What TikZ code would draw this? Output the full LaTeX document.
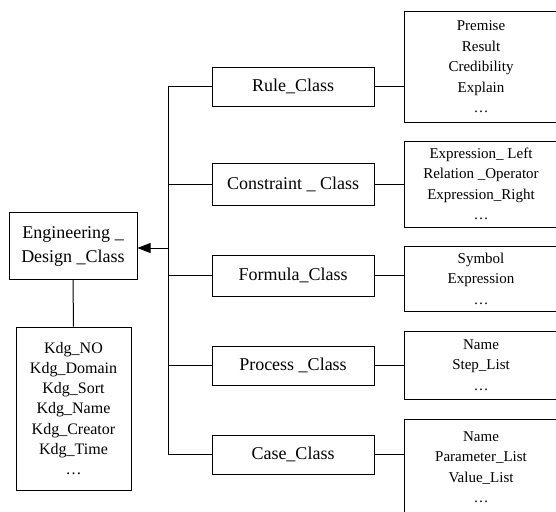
\documentclass[tikz,border=0pt]{standalone}
\usepackage{fontspec}
\setmainfont{Liberation Serif}
\usetikzlibrary{arrows.meta}

\begin{document}
\begin{tikzpicture}[x=1pt,y=-1pt]
\useasboundingbox (0,0) rectangle (556,511);
\tikzstyle{classe}=[rectangle,draw,line width=1pt,minimum width=162pt,
minimum height=40pt,inner sep=0pt,align=center,font=\fontsize{18}{24}\selectfont]
\tikzstyle{attrib}=[rectangle,draw,line width=1pt,minimum width=154pt,
inner sep=0pt,align=center,font=\fontsize{15}{20.5}\selectfont]

\node[classe,minimum width=128pt,minimum height=67pt] (eng) at (73,246) {Engineering \_\\Design \_Class};
\node[attrib,minimum width=115pt,minimum height=163pt,font=\fontsize{16}{20.3}\selectfont] (kdg) at (73.5,408.5)
{Kdg\_NO\\Kdg\_Domain\\Kdg\_Sort\\Kdg\_Name\\Kdg\_Creator\\Kdg\_Time\\\ldots};

\node[classe,minimum height=39pt] (rule) at (293,86.5) {Rule\_Class};
\node[classe,minimum height=42pt] (constr) at (293,184) {Constraint \_ Class};
\node[classe,minimum height=41pt] (formula) at (293,275.5) {Formula\_Class};
\node[classe,minimum height=39pt] (process) at (293,365.5) {Process \_Class};
\node[classe,minimum height=39pt] (case) at (293,454.5) {Case\_Class};

\node[attrib,minimum height=110pt] (premise) at (481,67) {Premise\\Result\\Credibility\\Explain\\\ldots};
\node[attrib,minimum height=86pt] (expr) at (481,184) {Expression\_ Left\\Relation \_Operator\\Expression\_Right\\\ldots};
\node[attrib,minimum height=65pt] (symbol) at (481,278.5) {Symbol\\Expression\\\ldots};
\node[attrib,minimum height=68pt] (steps) at (481,365) {Name\\Step\_List\\\ldots};
\node[attrib,minimum height=96pt] (param) at (481,467) {Name\\Parameter\_List\\Value\_List\\\ldots};

\tikzstyle{lien}=[line width=1pt]
\coordinate (bus) at (168,248);
\draw[lien] (rule.west) -- (rule.west -| bus);
\draw[lien] (constr.west) -- (constr.west -| bus);
\draw[lien] (formula.west) -- (formula.west -| bus);
\draw[lien] (process.west) -- (process.west -| bus);
\draw[lien] (case.west) -- (case.west -| bus);
\draw[lien] (rule.west -| bus) -- (case.west -| bus);
\draw[lien,-{Triangle[length=13pt,width=10pt]}] (bus) -- (bus -| eng.east);
\draw[lien] (eng.south) -- (kdg.north);

\draw[lien] (rule.east) -- (rule.east -| premise.west);
\draw[lien] (constr.east) -- (constr.east -| expr.west);
\draw[lien] (formula.east) -- (formula.east -| symbol.west);
\draw[lien] (process.east) -- (process.east -| steps.west);
\draw[lien] (case.east) -- (case.east -| param.west);

\end{tikzpicture}
\end{document}
